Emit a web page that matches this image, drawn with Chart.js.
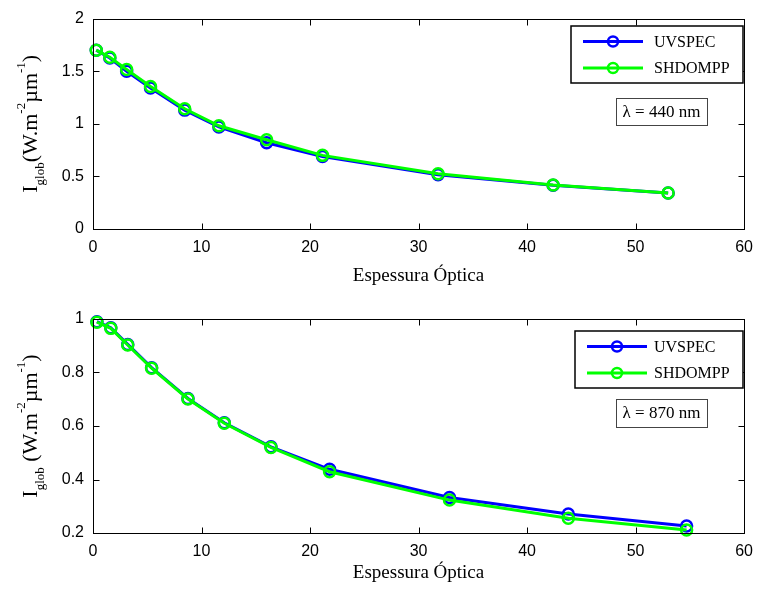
<!DOCTYPE html>
<html>
<head>
<meta charset="utf-8">
<script src="https://cdn.jsdelivr.net/npm/chart.js@4.4.1/dist/chart.umd.min.js"></script>
<style>
  html, body { margin: 0; padding: 0; background: #fff; }
  canvas { display: block; }
</style>
</head>
<body>
<canvas id="topChart" width="762" height="297"></canvas>
<canvas id="bottomChart" width="762" height="297"></canvas>
<script>
const seriesNames = ["UVSPEC", "SHDOMPP"];
const xTicks = [0, 10, 20, 30, 40, 50, 60];

// lambda = 440 nm
const tauTop = [0.3, 1.55, 3.1, 5.3, 8.45, 11.6, 16.0, 21.15, 31.8, 42.4, 53.0];
const uvspecTop = [1.70, 1.625, 1.50, 1.34, 1.13, 0.97, 0.82, 0.69, 0.515, 0.415, 0.343];
const shdomTop = [1.70, 1.633, 1.517, 1.355, 1.143, 0.981, 0.848, 0.70, 0.526, 0.418, 0.343];
const yTicksTop = [0, 0.5, 1, 1.5, 2];

// lambda = 870 nm
const tauBottom = [0.36, 1.64, 3.2, 5.4, 8.75, 12.1, 16.4, 21.8, 32.85, 43.8, 54.7];
const uvspecBottom = [0.99, 0.967, 0.905, 0.818, 0.703, 0.612, 0.522, 0.438, 0.333, 0.271, 0.226];
const shdomBottom = [0.988, 0.965, 0.903, 0.816, 0.701, 0.61, 0.52, 0.429, 0.323, 0.255, 0.211];
const yTicksBottom = [0.2, 0.4, 0.6, 0.8, 1];

const colors = ["#0000ff", "#00ff00"];
const serif = "'Liberation Serif', 'Times New Roman', serif";
const sans = "'Liberation Sans', Arial, sans-serif";

const drawYLabel = (ctx, cx, cy, gap) => {
  const parts = [
    { t: "I", size: 22, dy: 0 },
    { t: "glob", size: 13, dy: 7 },
    { t: gap + "(W.m", size: 22, dy: 0 },
    { t: "-2", size: 13, dy: -12 },
    { t: "\u00b5m", size: 22, dy: 0 },
    { t: "-1", size: 13, dy: -12 },
    { t: ")", size: 22, dy: 0 },
  ];
  let total = 0;
  parts.forEach((p) => {
    ctx.font = `${p.size}px ${serif}`;
    p.w = ctx.measureText(p.t).width;
    total += p.w;
  });
  ctx.save();
  ctx.translate(cx, cy);
  ctx.rotate(-Math.PI / 2);
  ctx.fillStyle = "#000";
  ctx.textBaseline = "alphabetic";
  ctx.textAlign = "left";
  let x = -total / 2;
  parts.forEach((p) => {
    ctx.font = `${p.size}px ${serif}`;
    ctx.fillText(p.t, x, 7 + p.dy);
    x += p.w;
  });
  ctx.restore();
};

const framePlugin = {
  id: "frame",
  afterDraw(chart, args, opts) {
    const { ctx, chartArea: a, scales } = chart;
    const L = Math.round(a.left) + 0.5;
    const R = Math.round(a.right) + 0.5;
    const T = Math.round(a.top) + 0.5;
    const B = Math.round(a.bottom) + 0.5;
    ctx.save();
    ctx.strokeStyle = "#000";
    ctx.lineWidth = 1;
    ctx.strokeRect(L, T, R - L, B - T);
    ctx.beginPath();
    scales.x.ticks.forEach((t) => {
      const px = Math.round(scales.x.getPixelForValue(t.value)) + 0.5;
      ctx.moveTo(px, B); ctx.lineTo(px, B - 6);
      ctx.moveTo(px, T); ctx.lineTo(px, T + 6);
    });
    scales.y.ticks.forEach((t) => {
      const py = Math.round(scales.y.getPixelForValue(t.value)) + 0.5;
      ctx.moveTo(L, py); ctx.lineTo(L + 6, py);
      ctx.moveTo(R, py); ctx.lineTo(R - 6, py);
    });
    ctx.stroke();

    drawYLabel(ctx, 30, (a.top + a.bottom) / 2, opts.gap);

    // legend
    const lg = opts.legend;
    ctx.fillStyle = "#fff";
    ctx.fillRect(lg.x, lg.y, lg.w, lg.h);
    ctx.strokeStyle = "#000";
    ctx.lineWidth = 1.5;
    ctx.strokeRect(lg.x, lg.y, lg.w, lg.h);
    chart.data.datasets.forEach((ds, i) => {
      const y = lg.y + 15.5 + i * 26.5;
      ctx.strokeStyle = ds.borderColor;
      ctx.lineWidth = 3;
      ctx.beginPath();
      ctx.moveTo(lg.lineX, y);
      ctx.lineTo(lg.lineX + 60, y);
      ctx.stroke();
      ctx.lineWidth = 2.5;
      ctx.beginPath();
      ctx.arc(lg.lineX + 30, y, 5, 0, Math.PI * 2);
      ctx.stroke();
      ctx.fillStyle = "#000";
      ctx.font = `16px ${serif}`;
      ctx.textBaseline = "middle";
      ctx.textAlign = "left";
      ctx.fillText(ds.label, 654, y + 1);
    });

    // wavelength box
    const wb = opts.wave;
    ctx.fillStyle = "#fff";
    ctx.fillRect(wb.x, wb.y, wb.w, wb.h);
    ctx.strokeStyle = "#444";
    ctx.lineWidth = 1;
    ctx.strokeRect(wb.x + 0.5, wb.y + 0.5, wb.w, wb.h);
    ctx.fillStyle = "#000";
    ctx.font = `17px ${serif}`;
    ctx.textAlign = "center";
    ctx.textBaseline = "middle";
    ctx.fillText(wb.text, wb.x + wb.w / 2, wb.y + wb.h / 2 + 1);
    ctx.restore();
  },
};

const makeChart = (id, cfg) => {
  const line = (name, xs, ys, color, order) => ({
    label: name,
    data: xs.map((x, i) => ({ x, y: ys[i] })),
    borderColor: color,
    backgroundColor: color,
    borderWidth: 3,
    pointStyle: "circle",
    pointRadius: 5.5,
    pointBorderWidth: 2.5,
    pointBorderColor: color,
    pointBackgroundColor: "rgba(0,0,0,0)",
    tension: 0,
    clip: false,
    order,
  });
  return new Chart(document.getElementById(id), {
    type: "line",
    data: {
      datasets: [
        line(seriesNames[0], cfg.tau, cfg.uv, colors[0], 1),
        line(seriesNames[1], cfg.tau, cfg.shd, colors[1], 0),
      ],
    },
    options: {
      responsive: false,
      animation: false,
      events: [],
      layout: { padding: { top: cfg.top, right: 11, left: 0, bottom: 0 } },
      plugins: {
        legend: { display: false },
        tooltip: { enabled: false },
        frame: { gap: cfg.gap, legend: cfg.legend, wave: cfg.wave },
      },
      scales: {
        x: {
          type: "linear",
          min: 0,
          max: 60,
          afterBuildTicks: (s) => { s.ticks = xTicks.map((v) => ({ value: v })); },
          afterFit: (s) => { s.height = 297 - cfg.bottom; },
          grid: { display: false, drawTicks: false },
          border: { display: false },
          ticks: {
            color: "#000",
            font: { family: sans, size: 16 },
            padding: 9,
            maxRotation: 0,
            autoSkip: false,
            callback: (v) => String(v),
          },
          title: {
            display: true,
            text: "Espessura \u00d3ptica",
            color: "#000",
            font: { family: serif, size: 19 },
            padding: { top: 0, bottom: 10 },
          },
        },
        y: {
          type: "linear",
          min: cfg.yTicks[0],
          max: cfg.yTicks[cfg.yTicks.length - 1],
          afterBuildTicks: (s) => { s.ticks = cfg.yTicks.map((v) => ({ value: v })); },
          afterFit: (s) => { s.width = 93; },
          grid: { display: false, drawTicks: false },
          border: { display: false },
          ticks: {
            color: "#000",
            font: { family: sans, size: 16 },
            padding: 9,
            autoSkip: false,
            callback: (v) => String(v),
          },
        },
      },
    },
    plugins: [framePlugin],
  });
};

makeChart("topChart", {
  tau: tauTop, uv: uvspecTop, shd: shdomTop, yTicks: yTicksTop,
  top: 15, bottom: 229, gap: "",
  legend: { x: 571, y: 26, w: 172, h: 57, lineX: 583 },
  wave: { x: 616, y: 98, w: 91, h: 27, text: "\u03bb = 440 nm" },
});

makeChart("bottomChart", {
  tau: tauBottom, uv: uvspecBottom, shd: shdomBottom, yTicks: yTicksBottom,
  top: 22, bottom: 236, gap: " ",
  legend: { x: 575, y: 34, w: 168, h: 57, lineX: 587 },
  wave: { x: 616, y: 102, w: 91, h: 28, text: "\u03bb = 870 nm" },
});
</script>
</body>
</html>
